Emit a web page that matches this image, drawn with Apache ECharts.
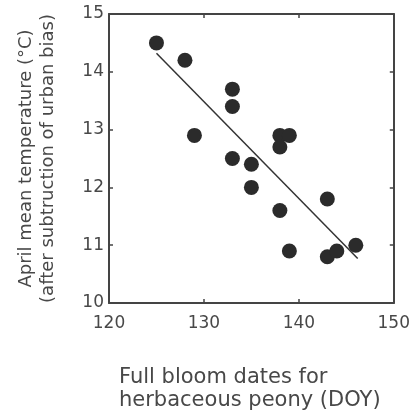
<!DOCTYPE html>
<html>
<head>
<meta charset="utf-8">
<script src="https://cdn.jsdelivr.net/npm/echarts@6/dist/echarts.min.js"></script>
<style>
  html, body { margin: 0; padding: 0; background: #fff; }
  #chart { width: 413px; height: 419px; }
</style>
</head>
<body>
<div id="chart"></div>
<script>
// bloom date (DOY) vs April mean temperature
const bloomDoy = [125, 128, 129, 133, 133, 133, 135, 135, 138, 139, 138, 138, 139, 143, 143, 144, 146]
const aprilTemp = [14.5, 14.2, 12.9, 13.7, 13.4, 12.5, 12.4, 12.0, 12.9, 12.9, 12.7, 11.6, 10.9, 11.8, 10.8, 10.9, 11.0]

// regression line end points
const fitDoy = [125, 146.2]
const fitTemp = [14.32, 10.77]

const xTicks = [120, 130, 140, 150]
const yTicks = [10, 11, 12, 13, 14, 15]

const font = 'DejaVu Sans'
const ink = '#484848'

const chart = echarts.init(document.getElementById('chart'))

const axisBase = {
  type: 'value',
  axisLine: { show: true, lineStyle: { color: '#444', width: 2 } },
  axisTick: { show: true, inside: true, length: 4, lineStyle: { color: '#444', width: 1.5 } },
  splitLine: { show: false },
}

chart.setOption({
  animation: false,
  title: {
    text: 'Full bloom dates for\nherbaceous peony (DOY)',
    left: 114,
    top: 361,
    textStyle: { fontFamily: font, fontSize: 21, fontWeight: 'normal', color: ink, lineHeight: 23 },
  },
  grid: { left: 109, right: 18, top: 14, bottom: 116 },
  xAxis: [
    {
      ...axisBase,
      min: xTicks[0],
      max: xTicks[xTicks.length - 1],
      interval: 10,
      axisLabel: { color: ink, fontFamily: font, fontSize: 17, margin: 12 },
    },
    {
      ...axisBase,
      position: 'top',
      min: xTicks[0],
      max: xTicks[xTicks.length - 1],
      interval: 10,
      axisLabel: { show: false },
    },
  ],
  yAxis: [
    {
      ...axisBase,
      min: yTicks[0],
      max: yTicks[yTicks.length - 1],
      interval: 1,
      name: 'April mean temperature (°C)\n(after subtruction of urban bias)',
      nameLocation: 'middle',
      nameGap: 50,
      nameTextStyle: { color: ink, fontFamily: font, fontSize: 18, lineHeight: 22 },
      axisLabel: { color: ink, fontFamily: font, fontSize: 17, margin: 5, padding: [10, 0, 0, 0] },
    },
    {
      ...axisBase,
      position: 'right',
      min: yTicks[0],
      max: yTicks[yTicks.length - 1],
      interval: 1,
      axisLabel: { show: false },
    },
  ],
  series: [
    {
      type: 'line',
      data: fitDoy.map((d, i) => [d, fitTemp[i]]),
      symbol: 'none',
      lineStyle: { color: '#333', width: 1.5 },
      z: 1,
    },
    {
      type: 'scatter',
      data: bloomDoy.map((d, i) => [d, aprilTemp[i]]),
      symbolSize: 15,
      itemStyle: { color: '#2b2b2b', opacity: 1 },
      z: 2,
    },
  ],
})
</script>
</body>
</html>
